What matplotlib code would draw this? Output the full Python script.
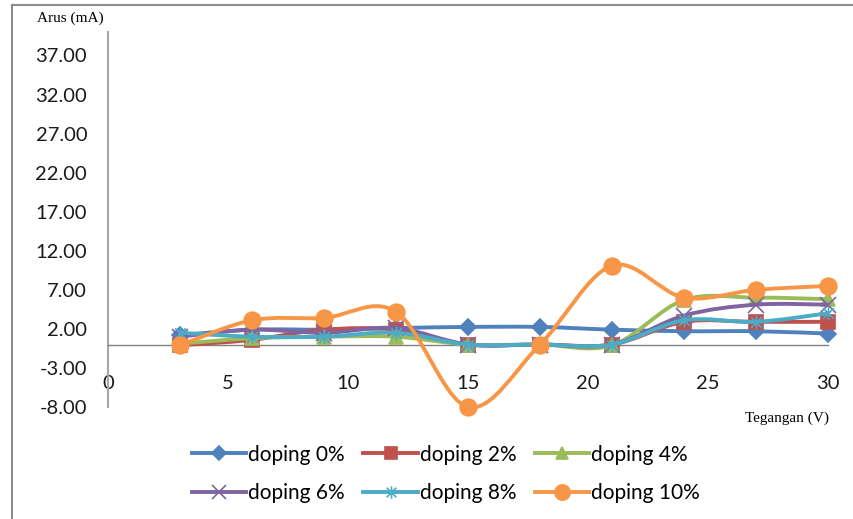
import numpy as np
import matplotlib.pyplot as plt
from matplotlib.path import Path
from matplotlib.patches import PathPatch
from matplotlib.lines import Line2D

# tegangan (V) and arus (mA) per doping level
tegangan = [3, 6, 9, 12, 15, 18, 21, 24, 27, 30]
doping_0 = [1.2, 1.9, 1.9, 2.1, 2.25, 2.25, 1.9, 1.7, 1.7, 1.4]
doping_2 = [-0.1, 0.6, 1.9, 1.9, 0.0, 0.0, 0.0, 2.9, 2.9, 2.9]
doping_4 = [0.1, 0.8, 1.0, 1.0, 0.0, 0.0, -0.1, 5.7, 6.0, 5.8]
doping_6 = [1.0, 1.9, 1.5, 2.1, 0.0, 0.0, 0.0, 3.7, 5.1, 5.1]
doping_8 = [1.5, 1.0, 1.0, 1.5, 0.0, 0.0, 0.0, 3.1, 2.9, 4.0]
doping_10 = [-0.1, 3.1, 3.4, 4.2, -8.0, 0.0, 10.1, 6.0, 7.0, 7.5]
labels = ['doping 0%', 'doping 2%', 'doping 4%',
          'doping 6%', 'doping 8%', 'doping 10%']
y_ticks = [-8, -3, 2, 7, 12, 17, 22, 27, 32, 37]
x_ticks = [0, 5, 10, 15, 20, 25, 30]

colors = ['#4F81BD', '#C0504D', '#9BBB59', '#8064A2', '#4BACC6', '#F79646']

# excel style asterisk marker
star = Path([(-1, -1), (1, 1), (-1, 1), (1, -1), (0, -1.3), (0, 1.3)],
            [Path.MOVETO, Path.LINETO] * 3)
markers = ['D', 's', '^', 'x', star, 'o']
msizes = [8, 10, 10, 11, 10, 12]

plt.rcParams['font.family'] = ['Lato', 'DejaVu Sans']


def smooth_path(xs, ys):
    # catmull-rom style bezier through the points
    p = np.column_stack([xs, ys]).astype(float)
    n = len(p)
    verts = [p[0]]
    codes = [Path.MOVETO]
    for i in range(n - 1):
        p0 = p[max(i - 1, 0)]
        p3 = p[min(i + 2, n - 1)]
        c1 = p[i] + (p[i + 1] - p0) / 6
        c2 = p[i + 1] - (p3 - p[i]) / 6
        verts += [c1, c2, p[i + 1]]
        codes += [Path.CURVE4] * 3
    return Path(verts, codes)


fig = plt.figure(figsize=(8.54, 5.19), dpi=100)
ax = fig.add_axes([108 / 854, 112 / 519, 720 / 854, 375 / 519])

series = [doping_0, doping_2, doping_4, doping_6, doping_8, doping_10]
handles = []
for i, ys in enumerate(series):
    patch = PathPatch(smooth_path(tegangan, ys), facecolor='none',
                      edgecolor=colors[i], lw=2.8, zorder=2 + i,
                      capstyle='round', clip_on=False)
    ax.add_patch(patch)
    face = 'none' if i in (3, 4) else colors[i]
    ax.plot(tegangan, ys, linestyle='none', marker=markers[i],
            markersize=msizes[i], color=colors[i], markerfacecolor=face,
            markeredgewidth=1.2, zorder=2.5 + i, clip_on=False)
    handles.append(Line2D([], [], color=colors[i], lw=2.8,
                          marker=markers[i], markersize=msizes[i] - 1,
                          markerfacecolor=face, markeredgewidth=1.2))

ax.set_xlim(0, 30)
ax.set_ylim(-8, 40)
ax.set_yticks(y_ticks)
ax.set_yticklabels([f'{v:.2f}' for v in y_ticks])
ax.set_xticks(x_ticks)

for s in ['top', 'right']:
    ax.spines[s].set_visible(False)
ax.spines['bottom'].set_position(('data', 0))
ax.spines['bottom'].set_color('#808080')
ax.spines['bottom'].set_linewidth(1)
ax.spines['left'].set_color('#a6a6a6')
ax.spines['left'].set_linewidth(1.5)
ax.tick_params(axis='both', length=0, labelsize=14.5, colors='#1a1a1a')
ax.tick_params(axis='x', pad=22)
ax.tick_params(axis='y', pad=15)

fig.text(37 / 854, 1 - 18 / 519, 'Arus (mA)', family='Liberation Serif',
         fontsize=11, va='center', ha='left')
fig.text(829 / 854, 1 - 418 / 519, 'Tegangan (V)', family='Liberation Serif',
         fontsize=11, va='center', ha='right')

# chart area border
fig.add_artist(Line2D([12 / 854, 12 / 854], [0, 1 - 5 / 519],
                      transform=fig.transFigure, color='#8c8c8c', lw=1.5))
fig.add_artist(Line2D([12 / 854, 1], [1 - 5 / 519, 1 - 5 / 519],
                      transform=fig.transFigure, color='#8c8c8c', lw=1.5))

order = [0, 3, 1, 4, 2, 5]
fig.legend([handles[k] for k in order], [labels[k] for k in order],
           ncol=3, loc='center', bbox_to_anchor=(446 / 854, 1 - 474 / 519),
           frameon=False, fontsize=15, handlelength=2.6, handletextpad=0.1,
           columnspacing=0.9, labelspacing=0.9)

fig.savefig('out.png', dpi=100)
